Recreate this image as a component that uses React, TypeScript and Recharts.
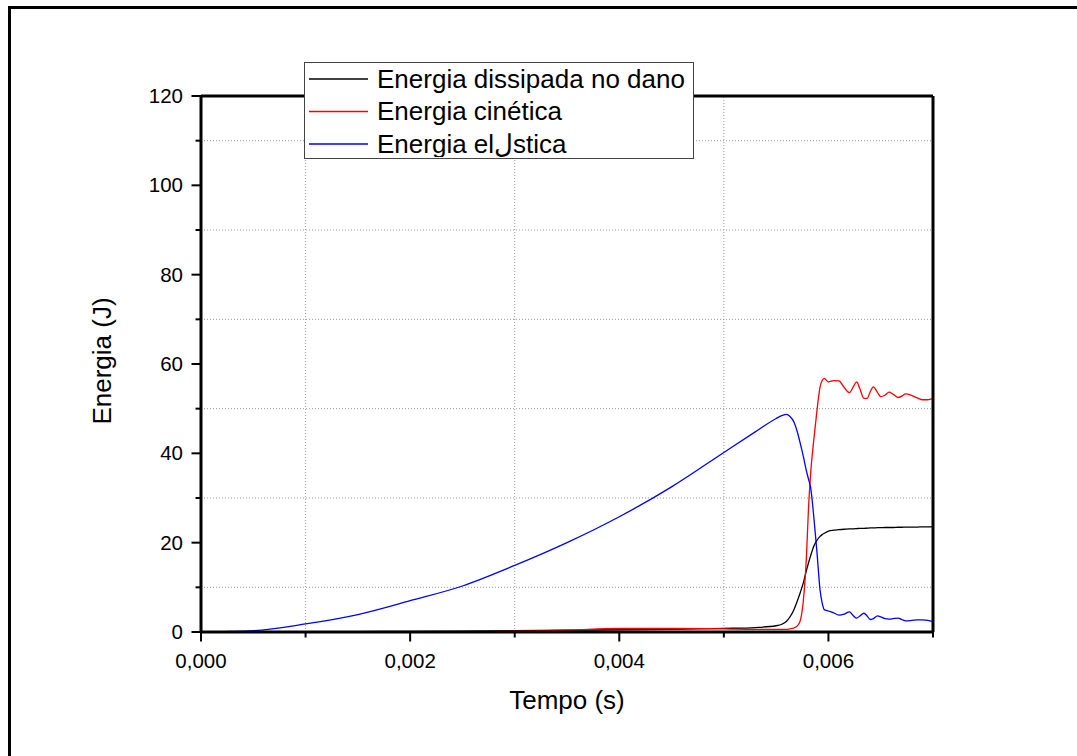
import { LineChart, Line, XAxis, YAxis, ReferenceLine } from "recharts";

// ── Data ──────────────────────────────────────────────────────────────────────

const TIME = [
  0, 0.0005, 0.001, 0.0015, 0.002, 0.0025, 0.003, 0.0035, 0.004, 0.0045,
  0.005, 0.0053, 0.0055, 0.00556, 0.0056, 0.00563, 0.00567, 0.0057, 0.00573, 0.00576,
  0.00579, 0.00581, 0.00583, 0.00586, 0.00589, 0.00592, 0.00594, 0.00596, 0.006, 0.00605,
  0.0061, 0.00615, 0.0062, 0.00624, 0.00627, 0.0063, 0.00634, 0.00637, 0.0064, 0.00643,
  0.00647, 0.0065, 0.00654, 0.00658, 0.00662, 0.00667, 0.0067, 0.00674, 0.0068, 0.00685,
  0.0069, 0.00695, 0.007,
];

const DAMAGE = [
  0, 0, 0.05, 0.1, 0.15, 0.2, 0.3, 0.4, 0.5, 0.6,
  0.8, 1.0, 1.4, 1.8, 2.4, 3.3, 5.0, 6.8, 8.8, 11.0,
  13.8, 15.5, 17.1, 19.2, 20.5, 21.4, 21.8, 22.1, 22.6, 22.8,
  22.9, 23.0, 23.1, 23.1, 23.15, 23.2, 23.2, 23.25, 23.3, 23.3,
  23.35, 23.35, 23.4, 23.4, 23.4, 23.45, 23.45, 23.5, 23.5, 23.5,
  23.55, 23.55, 23.6,
];

const KINETIC = [
  0, 0, 0, 0, 0, 0, 0.2, 0.4, 0.8, 0.8,
  0.7, 0.6, 0.6, 0.6, 0.6, 0.7, 0.9, 1.3, 2.5, 7.0,
  17.0, 28.0, 35.5, 43.0, 49.5, 54.9, 56.3, 56.8, 56.0, 56.3,
  56.2, 54.8, 53.6, 55.0, 56.0, 54.5, 52.3, 52.3, 53.8, 54.9,
  53.6, 52.7, 53.0, 53.7, 53.2, 52.5, 52.8, 53.3, 52.9, 52.4,
  52.0, 52.0, 52.3,
];

const ELASTIC = [
  0, 0.3, 1.8, 3.9, 7.0, 10.3, 14.9, 20.0, 25.8, 32.5,
  40.2, 44.8, 47.8, 48.5, 48.7, 48.3, 47.0, 45.0, 42.3, 39.3,
  36.0, 34.2, 32.3, 25.8, 18.0, 9.4, 6.5, 5.0, 4.7, 4.3,
  3.8, 4.0, 4.5, 3.6, 3.1, 3.6, 4.2, 3.6, 2.8, 3.0,
  3.6, 3.4, 3.0, 2.9, 3.0, 3.1, 2.8, 2.5, 2.6, 2.7,
  2.7, 2.6, 2.3,
];

const X_TICKS = [0, 0.001, 0.002, 0.003, 0.004, 0.005, 0.006, 0.007];
const Y_TICKS = [0, 10, 20, 30, 40, 50, 60, 70, 80, 90, 100, 110, 120];
const X_GRID = [0.001, 0.003, 0.005];
const Y_GRID = [10, 30, 50, 70, 90, 110];

const SERIES = [
  { key: "damage", name: "Energia dissipada no dano", color: "#000000" },
  { key: "kinetic", name: "Energia cinética", color: "#ff0000" },
  { key: "elastic", name: "Energia el\u0644stica", color: "#0000ff" },
];

const FONT = '"Liberation Sans", Arial, sans-serif';

// ── Ticks ─────────────────────────────────────────────────────────────────────

function XTick({ x, y, payload }: any) {
  const v = payload.value as number;
  const major = Math.round(v * 1000) % 2 === 0;
  return (
    <g>
      <line x1={x} y1={y} x2={x} y2={y + (major ? 9.5 : 5.5)} stroke="#000" strokeWidth={2} />
      {major && (
        <text x={x} y={y + 36} textAnchor="middle" fontSize={20.5} fontFamily={FONT} fill="#000">
          {v.toFixed(3).replace(".", ",")}
        </text>
      )}
    </g>
  );
}

function YTick({ x, y, payload }: any) {
  const v = payload.value as number;
  const major = v % 20 === 0;
  return (
    <g>
      <line x1={x - (major ? 9.5 : 5.5)} y1={y} x2={x} y2={y} stroke="#000" strokeWidth={2} />
      {major && (
        <text x={x - 18} y={y + 7} textAnchor="end" fontSize={20.5} fontFamily={FONT} fill="#000">
          {v}
        </text>
      )}
    </g>
  );
}

// ── Component ─────────────────────────────────────────────────────────────────

export default function App() {
  const data = TIME.map((t, i) => ({
    t,
    damage: DAMAGE[i],
    kinetic: KINETIC[i],
    elastic: ELASTIC[i],
  }));

  return (
    <div style={{ position: "absolute", left: 0, top: 0, width: 1077, height: 756, background: "#fff", overflow: "hidden" }}>
      {/* outer frame */}
      <div
        style={{
          position: "absolute", left: 8, top: 6, width: 1069, height: 750,
          borderTop: "3px solid #000", borderLeft: "3px solid #000", boxSizing: "border-box",
        }}
      />

      <div style={{ position: "absolute", left: 0, top: 0 }}>
        <LineChart width={1077} height={756} data={data} margin={{ top: 96, right: 144, bottom: 94, left: 141 }}>
          {X_GRID.map((g) => (
            <ReferenceLine key={"xg" + g} x={g} stroke="#999" strokeDasharray="1 2" strokeWidth={1} />
          ))}
          {Y_GRID.map((g) => (
            <ReferenceLine key={"yg" + g} y={g} stroke="#999" strokeDasharray="1 2" strokeWidth={1} />
          ))}

          <XAxis
            dataKey="t"
            type="number"
            domain={[0, 0.007]}
            ticks={X_TICKS}
            interval={0}
            height={30}
            tickSize={0}
            tickMargin={0}
            tickLine={false}
            tick={<XTick />}
            axisLine={{ stroke: "#000", strokeWidth: 3 }}
            allowDataOverflow
            label={{
              content: ({ viewBox }: any) => (
                <text
                  x={viewBox.x + viewBox.width / 2}
                  y={viewBox.y + 77}
                  textAnchor="middle"
                  fontSize={26}
                  fontFamily={FONT}
                  fill="#000"
                >
                  Tempo (s)
                </text>
              ),
            }}
          />
          <YAxis
            type="number"
            domain={[0, 120]}
            ticks={Y_TICKS}
            interval={0}
            width={60}
            tickSize={0}
            tickMargin={0}
            tickLine={false}
            tick={<YTick />}
            axisLine={{ stroke: "#000", strokeWidth: 3 }}
            allowDataOverflow
            label={{
              content: ({ viewBox }: any) => {
                const cx = viewBox.x + viewBox.width - 90;
                const cy = viewBox.y + viewBox.height / 2 - 3;
                return (
                  <text
                    x={cx}
                    y={cy}
                    textAnchor="middle"
                    fontSize={26}
                    fontFamily={FONT}
                    fill="#000"
                    transform={`rotate(-90, ${cx}, ${cy})`}
                  >
                    Energia (J)
                  </text>
                );
              },
            }}
          />

          {SERIES.map((s) => (
            <Line
              key={s.key}
              type="monotone"
              dataKey={s.key}
              name={s.name}
              stroke={s.color}
              strokeWidth={1.3}
              dot={false}
              activeDot={false}
              isAnimationActive={false}
            />
          ))}

          {/* top and right frame of the plot */}
          <ReferenceLine y={120} stroke="#000" strokeWidth={3} />
          <ReferenceLine x={0.007} stroke="#000" strokeWidth={3} />
        </LineChart>
      </div>

      {/* legend */}
      <div
        style={{
          position: "absolute", left: 304, top: 62, width: 390, height: 97,
          background: "#fff", border: "1.5px solid #444", boxSizing: "border-box",
        }}
      >
        <svg width={387} height={94} style={{ position: "absolute", left: 0, top: 0 }}>
          {SERIES.map((s, i) => {
            const cy = 16 + i * 32.5;
            return (
              <g key={s.key}>
                <line x1={4} y1={cy} x2={63} y2={cy} stroke={s.color} strokeWidth={1.3} />
                <text x={72} y={cy + 8.5} fontSize={26} fontFamily={FONT} fill="#000">
                  {s.name}
                </text>
              </g>
            );
          })}
        </svg>
      </div>
    </div>
  );
}
